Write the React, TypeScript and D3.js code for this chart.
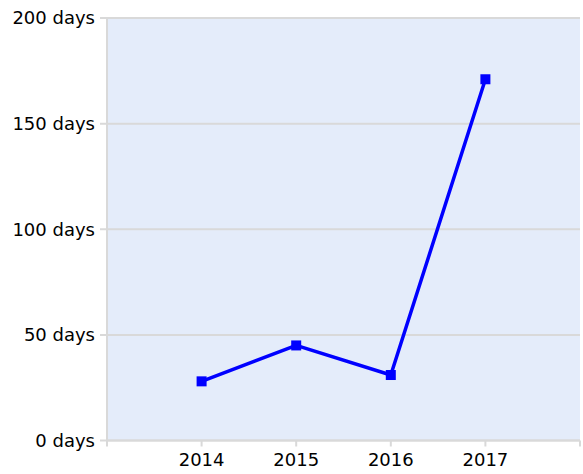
import React from "react";
import * as d3 from "d3";

const years = [2014, 2015, 2016, 2017];
const days = [28, 45, 31, 171];
const yTicks = [0, 50, 100, 150, 200];
const yTickLabels = ["0 days", "50 days", "100 days", "150 days", "200 days"];
const xTicks = [2013, 2014, 2015, 2016, 2017, 2018];

export default function App() {
  const W = 583, H = 474;
  const left = 107, right = 580, top = 18, bottom = 440.5;
  const x = d3.scaleLinear().domain([2013, 2018]).range([left, right]);
  const y = d3.scaleLinear().domain([0, 200]).range([bottom, top]);
  const line = d3.line<number>().x((_, i) => x(years[i])).y((d) => y(d));
  const font = "'DejaVu Sans', Verdana, sans-serif";
  const grid = "#d9d9d9";
  return (
    <svg width={W} height={H} style={{ position: "absolute", left: 0, top: 0, display: "block" }}>
      <rect x={left} y={top} width={right - left} height={bottom - top} fill="#e4ecfa" />
      {yTicks.map((t, i) => (
        <g key={t}>
          <line x1={left - 7} x2={right} y1={y(t)} y2={y(t)} stroke={grid} strokeWidth={2} />
          <text x={95} y={y(t)} dy="0.35em" textAnchor="end" fontFamily={font} fontSize={18} fill="#000">
            {yTickLabels[i]}
          </text>
        </g>
      ))}
      <line x1={left} x2={left} y1={top} y2={bottom + 1} stroke={grid} strokeWidth={2} />
      <line x1={left} x2={right} y1={bottom} y2={bottom} stroke={grid} strokeWidth={2} />
      {xTicks.map((t) => (
        <line key={t} x1={x(t)} x2={x(t)} y1={bottom} y2={bottom + 6} stroke={grid} strokeWidth={2} />
      ))}
      {years.map((t) => (
        <text key={t} x={x(t)} y={466} textAnchor="middle" fontFamily={font} fontSize={18} fill="#000">
          {t}
        </text>
      ))}
      <path d={line(days) || ""} fill="none" stroke="#0000ff" strokeWidth={3.5} strokeLinejoin="round" />
      {days.map((d, i) => (
        <rect key={i} x={x(years[i]) - 5} y={y(d) - 5} width={10} height={10} fill="#0000ff" />
      ))}
    </svg>
  );
}
